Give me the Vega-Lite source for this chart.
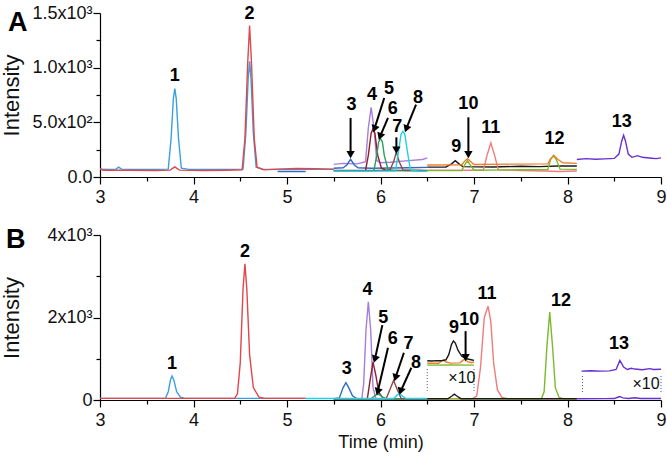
{
  "$schema": "https://vega.github.io/schema/vega-lite/v6.json",
  "padding": {"left": 0, "top": 4, "right": 0, "bottom": 2},
  "config": {
    "view": {"stroke": null},
    "font": "Liberation Sans",
    "concat": {"spacing": 20},
    "axis": {"domainColor": "#000", "domainWidth": 1.2, "tickColor": "#000", "tickWidth": 1.2, "labelColor": "#111", "labelFontSize": 18, "labelFont": "Liberation Sans", "titleFont": "Liberation Sans", "titleFontWeight": "normal", "titleColor": "#111", "grid": false, "labelFlush": false}
  },
  "datasets": {
    "linesA": [
      {"s":"A1","c":"1","t":3.0,"v":72},{"s":"A1","c":"1","t":3.1,"v":70},{"s":"A1","c":"1","t":3.17,"v":72},{"s":"A1","c":"1","t":3.2,"v":90},{"s":"A1","c":"1","t":3.23,"v":72},{"s":"A1","c":"1","t":3.4,"v":68},{"s":"A1","c":"1","t":3.6,"v":70},{"s":"A1","c":"1","t":3.73,"v":72},{"s":"A1","c":"1","t":3.76,"v":350},{"s":"A1","c":"1","t":3.785,"v":720},{"s":"A1","c":"1","t":3.8,"v":809},{"s":"A1","c":"1","t":3.815,"v":720},{"s":"A1","c":"1","t":3.84,"v":350},{"s":"A1","c":"1","t":3.87,"v":80},{"s":"A1","c":"1","t":3.95,"v":70},{"s":"A1","c":"1","t":4.2,"v":68},{"s":"A1","c":"1","t":4.4,"v":70},{"s":"A1","c":"1","t":4.53,"v":72},{"s":"A1","c":"1","t":4.56,"v":400},{"s":"A1","c":"1","t":4.585,"v":900},{"s":"A1","c":"1","t":4.6,"v":1058},{"s":"A1","c":"1","t":4.615,"v":900},{"s":"A1","c":"1","t":4.64,"v":400},{"s":"A1","c":"1","t":4.67,"v":90},{"s":"A1","c":"1","t":4.75,"v":70},{"s":"A1","c":"1","t":5.0,"v":68},{"s":"A1","c":"1","t":5.3,"v":70},{"s":"A1","c":"1","t":5.5,"v":70},
      {"s":"A2","c":"2","t":3.0,"v":80},{"s":"A2","c":"2","t":3.03,"v":62},{"s":"A2","c":"2","t":3.3,"v":62},{"s":"A2","c":"2","t":3.6,"v":60},{"s":"A2","c":"2","t":3.75,"v":63},{"s":"A2","c":"2","t":3.8,"v":92},{"s":"A2","c":"2","t":3.85,"v":63},{"s":"A2","c":"2","t":4.1,"v":60},{"s":"A2","c":"2","t":4.35,"v":62},{"s":"A2","c":"2","t":4.52,"v":66},{"s":"A2","c":"2","t":4.55,"v":350},{"s":"A2","c":"2","t":4.58,"v":1050},{"s":"A2","c":"2","t":4.6,"v":1385},{"s":"A2","c":"2","t":4.62,"v":1050},{"s":"A2","c":"2","t":4.65,"v":350},{"s":"A2","c":"2","t":4.68,"v":90},{"s":"A2","c":"2","t":4.75,"v":65},{"s":"A2","c":"2","t":4.9,"v":72},{"s":"A2","c":"2","t":5.1,"v":78},{"s":"A2","c":"2","t":5.3,"v":76},{"s":"A2","c":"2","t":5.5,"v":72},
      {"s":"A3a","c":"3","t":4.9,"v":50},{"s":"A3a","c":"3","t":5.2,"v":50},
      {"s":"A4","c":"4","t":5.5,"v":115},{"s":"A4","c":"4","t":5.6,"v":125},{"s":"A4","c":"4","t":5.75,"v":120},{"s":"A4","c":"4","t":5.84,"v":140},{"s":"A4","c":"4","t":5.87,"v":450},{"s":"A4","c":"4","t":5.9,"v":638},{"s":"A4","c":"4","t":5.93,"v":450},{"s":"A4","c":"4","t":5.96,"v":150},{"s":"A4","c":"4","t":6.0,"v":130},{"s":"A4","c":"4","t":6.1,"v":135},{"s":"A4","c":"4","t":6.3,"v":150},{"s":"A4","c":"4","t":6.45,"v":160},{"s":"A4","c":"4","t":6.5,"v":175},
      {"s":"A3","c":"3","t":5.5,"v":80},{"s":"A3","c":"3","t":5.6,"v":85},{"s":"A3","c":"3","t":5.64,"v":110},{"s":"A3","c":"3","t":5.68,"v":162},{"s":"A3","c":"3","t":5.72,"v":110},{"s":"A3","c":"3","t":5.76,"v":85},{"s":"A3","c":"3","t":5.9,"v":80},{"s":"A3","c":"3","t":6.1,"v":82},{"s":"A3","c":"3","t":6.3,"v":85},{"s":"A3","c":"3","t":6.5,"v":88},
      {"s":"A5","c":"5","t":5.5,"v":58},{"s":"A5","c":"5","t":5.84,"v":60},{"s":"A5","c":"5","t":5.87,"v":200},{"s":"A5","c":"5","t":5.9,"v":400},{"s":"A5","c":"5","t":5.92,"v":440},{"s":"A5","c":"5","t":5.94,"v":400},{"s":"A5","c":"5","t":5.97,"v":200},{"s":"A5","c":"5","t":6.01,"v":80},{"s":"A5","c":"5","t":6.06,"v":62},{"s":"A5","c":"5","t":6.5,"v":58},
      {"s":"A6","c":"6","t":5.5,"v":55},{"s":"A6","c":"6","t":5.93,"v":58},{"s":"A6","c":"6","t":5.96,"v":200},{"s":"A6","c":"6","t":5.98,"v":320},{"s":"A6","c":"6","t":6.0,"v":353},{"s":"A6","c":"6","t":6.02,"v":320},{"s":"A6","c":"6","t":6.04,"v":200},{"s":"A6","c":"6","t":6.08,"v":70},{"s":"A6","c":"6","t":6.15,"v":58},{"s":"A6","c":"6","t":6.5,"v":55},
      {"s":"A7","c":"7","t":5.5,"v":60},{"s":"A7","c":"7","t":6.1,"v":62},{"s":"A7","c":"7","t":6.14,"v":140},{"s":"A7","c":"7","t":6.17,"v":229},{"s":"A7","c":"7","t":6.2,"v":140},{"s":"A7","c":"7","t":6.24,"v":65},{"s":"A7","c":"7","t":6.5,"v":60},
      {"s":"A8","c":"8","t":5.5,"v":52},{"s":"A8","c":"8","t":6.16,"v":55},{"s":"A8","c":"8","t":6.19,"v":220},{"s":"A8","c":"8","t":6.22,"v":390},{"s":"A8","c":"8","t":6.24,"v":418},{"s":"A8","c":"8","t":6.26,"v":390},{"s":"A8","c":"8","t":6.29,"v":220},{"s":"A8","c":"8","t":6.32,"v":65},{"s":"A8","c":"8","t":6.4,"v":55},{"s":"A8","c":"8","t":6.5,"v":52},
      {"s":"A9","c":"9","t":6.5,"v":90},{"s":"A9","c":"9","t":6.7,"v":92},{"s":"A9","c":"9","t":6.76,"v":120},{"s":"A9","c":"9","t":6.8,"v":150},{"s":"A9","c":"9","t":6.84,"v":120},{"s":"A9","c":"9","t":6.88,"v":95},{"s":"A9","c":"9","t":7.2,"v":92},{"s":"A9","c":"9","t":7.5,"v":98},{"s":"A9","c":"9","t":7.7,"v":95},{"s":"A9","c":"9","t":7.9,"v":100},{"s":"A9","c":"9","t":8.1,"v":100},
      {"s":"A11","c":"11","t":6.5,"v":62},{"s":"A11","c":"11","t":7.1,"v":62},{"s":"A11","c":"11","t":7.14,"v":200},{"s":"A11","c":"11","t":7.18,"v":311},{"s":"A11","c":"11","t":7.22,"v":200},{"s":"A11","c":"11","t":7.26,"v":65},{"s":"A11","c":"11","t":7.5,"v":60},{"s":"A11","c":"11","t":7.75,"v":55},{"s":"A11","c":"11","t":7.9,"v":50},{"s":"A11","c":"11","t":8.1,"v":55},
      {"s":"A12","c":"12","t":6.5,"v":58},{"s":"A12","c":"12","t":6.87,"v":60},{"s":"A12","c":"12","t":6.9,"v":110},{"s":"A12","c":"12","t":6.93,"v":148},{"s":"A12","c":"12","t":6.96,"v":110},{"s":"A12","c":"12","t":7.0,"v":62},{"s":"A12","c":"12","t":7.5,"v":66},{"s":"A12","c":"12","t":7.79,"v":68},{"s":"A12","c":"12","t":7.82,"v":160},{"s":"A12","c":"12","t":7.85,"v":199},{"s":"A12","c":"12","t":7.88,"v":160},{"s":"A12","c":"12","t":7.92,"v":72},{"s":"A12","c":"12","t":8.1,"v":70},
      {"s":"A10","c":"10","t":6.5,"v":110},{"s":"A10","c":"10","t":6.87,"v":112},{"s":"A10","c":"10","t":6.9,"v":145},{"s":"A10","c":"10","t":6.93,"v":168},{"s":"A10","c":"10","t":6.96,"v":145},{"s":"A10","c":"10","t":7.0,"v":115},{"s":"A10","c":"10","t":7.4,"v":118},{"s":"A10","c":"10","t":7.79,"v":120},{"s":"A10","c":"10","t":7.82,"v":170},{"s":"A10","c":"10","t":7.86,"v":192},{"s":"A10","c":"10","t":7.9,"v":160},{"s":"A10","c":"10","t":7.95,"v":130},{"s":"A10","c":"10","t":8.1,"v":125},
      {"s":"A13","c":"13","t":8.1,"v":160},{"s":"A13","c":"13","t":8.2,"v":168},{"s":"A13","c":"13","t":8.3,"v":162},{"s":"A13","c":"13","t":8.4,"v":166},{"s":"A13","c":"13","t":8.5,"v":170},{"s":"A13","c":"13","t":8.55,"v":210},{"s":"A13","c":"13","t":8.58,"v":330},{"s":"A13","c":"13","t":8.6,"v":382},{"s":"A13","c":"13","t":8.62,"v":330},{"s":"A13","c":"13","t":8.65,"v":210},{"s":"A13","c":"13","t":8.69,"v":180},{"s":"A13","c":"13","t":8.75,"v":195},{"s":"A13","c":"13","t":8.8,"v":180},{"s":"A13","c":"13","t":8.9,"v":172},{"s":"A13","c":"13","t":8.95,"v":168},{"s":"A13","c":"13","t":9.0,"v":175}
    ],
    "linesB": [
      {"s":"B1","c":"1","t":3.0,"v":40},{"s":"B1","c":"1","t":3.7,"v":40},{"s":"B1","c":"1","t":3.73,"v":200},{"s":"B1","c":"1","t":3.755,"v":500},{"s":"B1","c":"1","t":3.77,"v":580},{"s":"B1","c":"1","t":3.79,"v":480},{"s":"B1","c":"1","t":3.82,"v":200},{"s":"B1","c":"1","t":3.86,"v":70},{"s":"B1","c":"1","t":3.9,"v":42},{"s":"B1","c":"1","t":4.4,"v":40},{"s":"B1","c":"1","t":5.2,"v":40},
      {"s":"B2","c":"2","t":3.0,"v":40},{"s":"B2","c":"2","t":3.6,"v":40},{"s":"B2","c":"2","t":3.65,"v":40},{"s":"B2","c":"2","t":4.44,"v":40},{"s":"B2","c":"2","t":4.47,"v":150},{"s":"B2","c":"2","t":4.5,"v":900},{"s":"B2","c":"2","t":4.53,"v":2700},{"s":"B2","c":"2","t":4.55,"v":3300},{"s":"B2","c":"2","t":4.57,"v":2700},{"s":"B2","c":"2","t":4.6,"v":1100},{"s":"B2","c":"2","t":4.64,"v":300},{"s":"B2","c":"2","t":4.7,"v":70},{"s":"B2","c":"2","t":4.75,"v":42},{"s":"B2","c":"2","t":5.2,"v":40},
      {"s":"B3","c":"3","t":5.5,"v":30},{"s":"B3","c":"3","t":5.56,"v":50},{"s":"B3","c":"3","t":5.6,"v":300},{"s":"B3","c":"3","t":5.63,"v":420},{"s":"B3","c":"3","t":5.66,"v":300},{"s":"B3","c":"3","t":5.7,"v":100},{"s":"B3","c":"3","t":5.75,"v":30},{"s":"B3","c":"3","t":6.5,"v":30},
      {"s":"B4","c":"4","t":5.5,"v":30},{"s":"B4","c":"4","t":5.8,"v":30},{"s":"B4","c":"4","t":5.82,"v":400},{"s":"B4","c":"4","t":5.845,"v":1700},{"s":"B4","c":"4","t":5.87,"v":2380},{"s":"B4","c":"4","t":5.895,"v":1700},{"s":"B4","c":"4","t":5.92,"v":300},{"s":"B4","c":"4","t":5.95,"v":40},{"s":"B4","c":"4","t":6.5,"v":30},
      {"s":"B5","c":"5","t":5.5,"v":30},{"s":"B5","c":"5","t":5.86,"v":40},{"s":"B5","c":"5","t":5.89,"v":500},{"s":"B5","c":"5","t":5.92,"v":920},{"s":"B5","c":"5","t":5.95,"v":600},{"s":"B5","c":"5","t":5.98,"v":200},{"s":"B5","c":"5","t":6.02,"v":60},{"s":"B5","c":"5","t":6.06,"v":30},{"s":"B5","c":"5","t":6.5,"v":30},
      {"s":"B6","c":"6","t":5.5,"v":30},{"s":"B6","c":"6","t":5.9,"v":30},{"s":"B6","c":"6","t":5.94,"v":110},{"s":"B6","c":"6","t":5.97,"v":145},{"s":"B6","c":"6","t":6.0,"v":110},{"s":"B6","c":"6","t":6.05,"v":30},{"s":"B6","c":"6","t":6.5,"v":30},
      {"s":"B7","c":"7","t":5.5,"v":30},{"s":"B7","c":"7","t":6.06,"v":30},{"s":"B7","c":"7","t":6.1,"v":250},{"s":"B7","c":"7","t":6.14,"v":475},{"s":"B7","c":"7","t":6.18,"v":250},{"s":"B7","c":"7","t":6.22,"v":40},{"s":"B7","c":"7","t":6.5,"v":30},
      {"s":"B8","c":"8","t":5.2,"v":35},{"s":"B8","c":"8","t":6.14,"v":35},{"s":"B8","c":"8","t":6.17,"v":100},{"s":"B8","c":"8","t":6.2,"v":160},{"s":"B8","c":"8","t":6.23,"v":100},{"s":"B8","c":"8","t":6.27,"v":40},{"s":"B8","c":"8","t":6.5,"v":35},
      {"s":"B11","c":"11","t":6.5,"v":30},{"s":"B11","c":"11","t":6.98,"v":30},{"s":"B11","c":"11","t":7.03,"v":100},{"s":"B11","c":"11","t":7.07,"v":800},{"s":"B11","c":"11","t":7.11,"v":2000},{"s":"B11","c":"11","t":7.15,"v":2275},{"s":"B11","c":"11","t":7.18,"v":1900},{"s":"B11","c":"11","t":7.21,"v":900},{"s":"B11","c":"11","t":7.25,"v":250},{"s":"B11","c":"11","t":7.3,"v":60},{"s":"B11","c":"11","t":7.36,"v":30},{"s":"B11","c":"11","t":8.1,"v":30},
      {"s":"B12","c":"12","t":6.5,"v":28},{"s":"B12","c":"12","t":7.72,"v":28},{"s":"B12","c":"12","t":7.75,"v":200},{"s":"B12","c":"12","t":7.78,"v":1300},{"s":"B12","c":"12","t":7.81,"v":2130},{"s":"B12","c":"12","t":7.84,"v":1300},{"s":"B12","c":"12","t":7.87,"v":300},{"s":"B12","c":"12","t":7.91,"v":60},{"s":"B12","c":"12","t":7.96,"v":28},{"s":"B12","c":"12","t":8.1,"v":28},
      {"s":"B9","c":"9","t":6.5,"v":30},{"s":"B9","c":"9","t":6.72,"v":30},{"s":"B9","c":"9","t":6.76,"v":90},{"s":"B9","c":"9","t":6.79,"v":140},{"s":"B9","c":"9","t":6.82,"v":90},{"s":"B9","c":"9","t":6.86,"v":32},{"s":"B9","c":"9","t":8.1,"v":30},
      {"s":"B13","c":"13","t":8.1,"v":32},{"s":"B13","c":"13","t":8.4,"v":33},{"s":"B13","c":"13","t":8.5,"v":35},{"s":"B13","c":"13","t":8.53,"v":60},{"s":"B13","c":"13","t":8.56,"v":85},{"s":"B13","c":"13","t":8.59,"v":50},{"s":"B13","c":"13","t":8.65,"v":38},{"s":"B13","c":"13","t":8.72,"v":55},{"s":"B13","c":"13","t":8.78,"v":38},{"s":"B13","c":"13","t":9.0,"v":35},
      {"s":"B12i","c":"12","t":6.5,"v":845},{"s":"B12i","c":"12","t":6.75,"v":848},{"s":"B12i","c":"12","t":7.0,"v":845},
      {"s":"B10i","c":"10","t":6.5,"v":890},{"s":"B10i","c":"10","t":6.62,"v":890},{"s":"B10i","c":"10","t":6.65,"v":940},{"s":"B10i","c":"10","t":6.67,"v":975},{"s":"B10i","c":"10","t":6.7,"v":920},{"s":"B10i","c":"10","t":6.75,"v":895},{"s":"B10i","c":"10","t":6.85,"v":900},{"s":"B10i","c":"10","t":6.88,"v":960},{"s":"B10i","c":"10","t":6.9,"v":985},{"s":"B10i","c":"10","t":6.93,"v":930},{"s":"B10i","c":"10","t":6.97,"v":905},{"s":"B10i","c":"10","t":7.0,"v":920},
      {"s":"B9i","c":"9","t":6.5,"v":950},{"s":"B9i","c":"9","t":6.55,"v":945},{"s":"B9i","c":"9","t":6.6,"v":955},{"s":"B9i","c":"9","t":6.65,"v":950},{"s":"B9i","c":"9","t":6.7,"v":975},{"s":"B9i","c":"9","t":6.73,"v":1100},{"s":"B9i","c":"9","t":6.76,"v":1350},{"s":"B9i","c":"9","t":6.78,"v":1430},{"s":"B9i","c":"9","t":6.8,"v":1380},{"s":"B9i","c":"9","t":6.83,"v":1200},{"s":"B9i","c":"9","t":6.87,"v":1060},{"s":"B9i","c":"9","t":6.92,"v":1000},{"s":"B9i","c":"9","t":6.97,"v":975},{"s":"B9i","c":"9","t":7.0,"v":960},
      {"s":"B13i","c":"13","t":8.15,"v":700},{"s":"B13i","c":"13","t":8.25,"v":710},{"s":"B13i","c":"13","t":8.35,"v":700},{"s":"B13i","c":"13","t":8.45,"v":705},{"s":"B13i","c":"13","t":8.52,"v":740},{"s":"B13i","c":"13","t":8.56,"v":960},{"s":"B13i","c":"13","t":8.6,"v":800},{"s":"B13i","c":"13","t":8.64,"v":740},{"s":"B13i","c":"13","t":8.68,"v":770},{"s":"B13i","c":"13","t":8.72,"v":750},{"s":"B13i","c":"13","t":8.8,"v":735},{"s":"B13i","c":"13","t":8.88,"v":760},{"s":"B13i","c":"13","t":8.92,"v":740},{"s":"B13i","c":"13","t":9.0,"v":745}
    ],
    "labelsA": [
      {"k":"1","t":3.8,"v":921},{"k":"2","t":4.6,"v":1489},{"k":"3","t":5.69,"v":656},{"k":"4","t":5.91,"v":748},{"k":"5","t":6.09,"v":802},{"k":"6","t":6.13,"v":619},{"k":"7","t":6.18,"v":455},{"k":"8","t":6.4,"v":720},{"k":"9","t":6.81,"v":272},{"k":"10","t":6.94,"v":668},{"k":"11","t":7.18,"v":445},{"k":"12","t":7.86,"v":345},{"k":"13","t":8.58,"v":503}
    ],
    "labelsB": [
      {"k":"1","t":3.77,"v":863},{"k":"2","t":4.55,"v":3590},{"k":"3","t":5.64,"v":740},{"k":"4","t":5.86,"v":2655},{"k":"5","t":6.03,"v":1990},{"k":"6","t":6.13,"v":1468},{"k":"7","t":6.3,"v":1348},{"k":"8","t":6.38,"v":903},{"k":"9","t":6.785,"v":1735},{"k":"10","t":6.95,"v":1928},{"k":"11","t":7.14,"v":2572},{"k":"12","t":7.93,"v":2412},{"k":"13","t":8.55,"v":1348}
    ],
    "panelA": [{"k":"A","t":2.12,"v":1411}],
    "panelB": [{"k":"B","t":2.1,"v":3872}],
    "arrowsA": [
      {"a":"3","d":"v","t":5.68,"v":540,"t2":5.68,"v2":205},
      {"a":"10","d":"v","t":6.94,"v":546,"t2":6.94,"v2":205},
      {"a":"7","d":"v","t":6.17,"v":363,"t2":6.17,"v2":245},
      {"a":"5","d":"s","t":6.04,"v":723,"t2":5.935,"v2":440},
      {"a":"6","d":"s","t":6.08,"v":540,"t2":5.995,"v2":370},
      {"a":"8","d":"s","t":6.38,"v":662,"t2":6.275,"v2":440}
    ],
    "arrowsB": [
      {"a":"10","d":"v","t":6.91,"v":1670,"t2":6.91,"v2":1030},
      {"a":"5","d":"s","t":6.02,"v":1815,"t2":5.94,"v2":990},
      {"a":"6","d":"s","t":6.08,"v":1266,"t2":5.97,"v2":200},
      {"a":"7","d":"s","t":6.25,"v":1145,"t2":6.16,"v2":540},
      {"a":"8","d":"s","t":6.33,"v":782,"t2":6.215,"v2":210}
    ],
    "dotsB": [
      {"t":6.5,"v":750,"v2":220},{"t":7.0,"v":750,"v2":220},{"t":8.16,"v":580,"v2":170},{"t":9.0,"v":580,"v2":170}
    ],
    "timesB": [
      {"k":"×10","t":6.87,"v":535},{"k":"×10","t":8.84,"v":400}
    ]
  },
  "vconcat": [
    {
      "width": 561,
      "height": 164,
      "encoding": {
        "x": {"field": "t", "type": "quantitative", "scale": {"domain": [3, 9], "nice": false},
          "axis": {"title": null, "values": [3,3.5,4,4.5,5,5.5,6,6.5,7,7.5,8,8.5,9], "labelExpr": "datum.value % 1 == 0 ? '' + datum.value : ''", "tickSize": {"condition": {"test": "datum.value % 1 == 0", "value": 7}, "value": 4}, "labelPadding": 4}},
        "y": {"field": "v", "type": "quantitative", "scale": {"domain": [0, 1500], "nice": false},
          "axis": {"title": "Intensity", "titleFontSize": 22, "titleX": -77, "values": [0,250,500,750,1000,1250,1500], "labelExpr": "datum.value == 0 ? '0.0' : datum.value == 500 ? '5.0x10²' : datum.value == 1000 ? '1.0x10³' : datum.value == 1500 ? '1.5x10³' : ''", "tickSize": {"condition": {"test": "datum.value % 500 == 0", "value": 7}, "value": 4}, "labelPadding": 1}}
      },
      "layer": [
        {"data": {"name": "linesA"}, "mark": {"type": "line", "strokeWidth": 1.4, "clip": true},
          "encoding": {"color": {"field": "c", "type": "nominal", "legend": null, "scale": {"domain": ["1","2","3","4","5","6","7","8","9","10","11","12","13"], "range": ["#3A9FDE","#E0474C","#2E6CC2","#A87DDA","#8E1F2D","#2E9A5C","#8D4C4A","#22D2E4","#1A1A1A","#F07F2A","#F07C7C","#7DBA2B","#6A2FD0"]}}, "detail": {"field": "s"}}},
        {"data": {"name": "arrowsA"}, "mark": {"type": "rule", "strokeWidth": 2, "color": "#000"},
          "encoding": {"x2": {"field": "t2"}, "y2": {"field": "v2"}}},
        {"data": {"name": "arrowsA"}, "transform": [{"filter": "datum.d == 'v'"}], "mark": {"type": "point", "shape": "triangle-down", "filled": true, "color": "#000", "size": 70, "opacity": 1},
          "encoding": {"x": {"field": "t2", "type": "quantitative"}, "y": {"field": "v2", "type": "quantitative"}}},
        {"data": {"name": "arrowsA"}, "transform": [{"filter": "datum.d == 's'"}], "mark": {"type": "point", "shape": "triangle-down", "filled": true, "color": "#000", "size": 70, "opacity": 1, "angle": 20},
          "encoding": {"x": {"field": "t2", "type": "quantitative"}, "y": {"field": "v2", "type": "quantitative"}}},
        {"data": {"name": "labelsA"}, "mark": {"type": "text", "fontSize": 18, "fontWeight": "bold", "color": "#000", "font": "Liberation Sans"},
          "encoding": {"text": {"field": "k"}}},
        {"data": {"name": "panelA"}, "mark": {"type": "text", "fontSize": 27, "fontWeight": "bold", "color": "#000", "font": "Liberation Sans"},
          "encoding": {"text": {"field": "k"}}}
      ]
    },
    {
      "width": 561,
      "height": 165,
      "encoding": {
        "x": {"field": "t", "type": "quantitative", "scale": {"domain": [3, 9], "nice": false},
          "axis": {"title": "Time (min)", "titleFontSize": 18, "titlePadding": 4, "values": [3,3.5,4,4.5,5,5.5,6,6.5,7,7.5,8,8.5,9], "labelExpr": "datum.value % 1 == 0 ? '' + datum.value : ''", "tickSize": {"condition": {"test": "datum.value % 1 == 0", "value": 7}, "value": 4}, "labelPadding": 4}},
        "y": {"field": "v", "type": "quantitative", "scale": {"domain": [0, 4000], "nice": false},
          "axis": {"title": "Intensity", "titleFontSize": 22, "titleX": -77, "values": [0,1000,2000,3000,4000], "labelExpr": "datum.value == 0 ? '0' : datum.value == 2000 ? '2x10³' : datum.value == 4000 ? '4x10³' : ''", "tickSize": {"condition": {"test": "datum.value % 2000 == 0", "value": 7}, "value": 4}, "labelPadding": 1}}
      },
      "layer": [
        {"data": {"name": "linesB"}, "mark": {"type": "line", "strokeWidth": 1.4, "clip": true},
          "encoding": {"color": {"field": "c", "type": "nominal", "legend": null, "scale": {"domain": ["1","2","3","4","5","6","7","8","9","10","11","12","13"], "range": ["#3A9FDE","#E0474C","#2E6CC2","#A87DDA","#8E1F2D","#2E9A5C","#8D4C4A","#22D2E4","#1A1A1A","#F07F2A","#F07C7C","#7DBA2B","#6A2FD0"]}}, "detail": {"field": "s"}}},
        {"data": {"name": "dotsB"}, "mark": {"type": "rule", "strokeWidth": 1, "color": "#555", "strokeDash": [1, 2]},
          "encoding": {"y2": {"field": "v2"}}},
        {"data": {"name": "timesB"}, "mark": {"type": "text", "fontSize": 16, "color": "#111", "font": "Liberation Sans"},
          "encoding": {"text": {"field": "k"}}},
        {"data": {"name": "arrowsB"}, "mark": {"type": "rule", "strokeWidth": 2, "color": "#000"},
          "encoding": {"x2": {"field": "t2"}, "y2": {"field": "v2"}}},
        {"data": {"name": "arrowsB"}, "transform": [{"filter": "datum.d == 'v'"}], "mark": {"type": "point", "shape": "triangle-down", "filled": true, "color": "#000", "size": 70, "opacity": 1},
          "encoding": {"x": {"field": "t2", "type": "quantitative"}, "y": {"field": "v2", "type": "quantitative"}}},
        {"data": {"name": "arrowsB"}, "transform": [{"filter": "datum.d == 's'"}], "mark": {"type": "point", "shape": "triangle-down", "filled": true, "color": "#000", "size": 70, "opacity": 1, "angle": 17},
          "encoding": {"x": {"field": "t2", "type": "quantitative"}, "y": {"field": "v2", "type": "quantitative"}}},
        {"data": {"name": "labelsB"}, "mark": {"type": "text", "fontSize": 18, "fontWeight": "bold", "color": "#000", "font": "Liberation Sans"},
          "encoding": {"text": {"field": "k"}}},
        {"data": {"name": "panelB"}, "mark": {"type": "text", "fontSize": 27, "fontWeight": "bold", "color": "#000", "font": "Liberation Sans"},
          "encoding": {"text": {"field": "k"}}}
      ]
    }
  ]
}
